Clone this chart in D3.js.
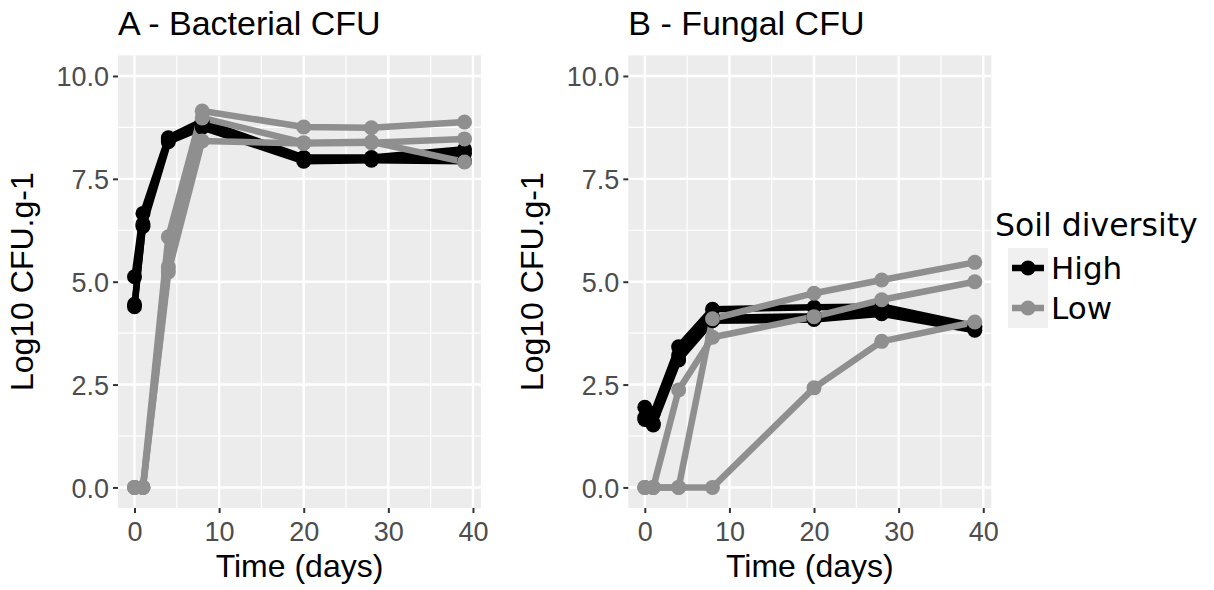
<!DOCTYPE html>
<html><head><meta charset="utf-8">
<script src="https://cdn.jsdelivr.net/npm/d3@7"></script>
<style>body{margin:0;background:#fff}svg{display:block}</style>
</head><body><svg id="c" width="1214" height="590"></svg>
<script>
const days = [0, 1, 4, 8, 20, 28, 39];
const xTicks = [0, 10, 20, 30, 40];
const yTicks = [0, 2.5, 5, 7.5, 10];
const yTickLabels = ["0.0", "2.5", "5.0", "7.5", "10.0"];
const levels = ["High", "Low"];
const panelTitles = ["A - Bacterial CFU", "B - Fungal CFU"];
// Panel A - bacterial, replicates per soil diversity
const bactHigh1 = [5.12, 6.66, 8.50, 8.90, 8.02, 8.02, 8.22];
const bactHigh2 = [4.45, 6.34, 8.40, 8.75, 7.93, 7.95, 7.93];
const bactHigh3 = [4.39, 6.40, 8.45, 8.82, 7.97, 7.98, 8.12];
const bactLow1 = [0, 0, 6.09, 9.15, 8.76, 8.74, 8.88];
const bactLow2 = [0, 0, 5.36, 8.98, 8.38, 8.40, 7.91];
const bactLow3 = [0, 0, 5.24, 8.42, 8.36, 8.38, 8.47];
// Panel B - fungal
const fungHigh1 = [1.95, 1.80, 3.42, 4.33, 4.38, 4.40, 3.92];
const fungHigh2 = [1.65, 1.52, 3.10, 4.05, 4.08, 4.22, 3.82];
const fungHigh3 = [1.70, 1.56, 3.22, 4.12, 4.16, 4.30, 3.88];
const fungLow1 = [0, 0, 2.37, 3.65, 4.15, 4.56, 5.00];
const fungLow2 = [0, 0, 0, 4.10, 4.72, 5.04, 5.47];
const fungLow3 = [0, 0, 0, 0, 2.42, 3.55, 4.02];

const colors = {High: "#000000", Low: "#8f8f8f"};
const panels = [
  {title: panelTitles[0], left: 118, series: [
    {level: "High", vals: bactHigh1}, {level: "High", vals: bactHigh2}, {level: "High", vals: bactHigh3},
    {level: "Low", vals: bactLow1}, {level: "Low", vals: bactLow2}, {level: "Low", vals: bactLow3}]},
  {title: panelTitles[1], left: 628.3, series: [
    {level: "High", vals: fungHigh1}, {level: "High", vals: fungHigh2}, {level: "High", vals: fungHigh3},
    {level: "Low", vals: fungLow1}, {level: "Low", vals: fungLow2}, {level: "Low", vals: fungLow3}]}
];
const W = 363, pTop = 55.4, pBottom = 508;
const svg = d3.select("#c");
const FONT = "'Liberation Sans', Arial, sans-serif";

panels.forEach(p => {
  const x = d3.scaleLinear().domain([-1.95, 40.95]).range([p.left, p.left + W]);
  const y = d3.scaleLinear().domain([-0.5, 10.5]).range([pBottom, pTop]);
  const g = svg.append("g");
  g.append("rect").attr("x", p.left).attr("y", pTop).attr("width", W).attr("height", pBottom - pTop).attr("fill", "#ececec");
  // minor grid
  [5, 15, 25, 35].forEach(v => g.append("line").attr("x1", x(v)).attr("x2", x(v)).attr("y1", pTop).attr("y2", pBottom).attr("stroke", "#fff").attr("stroke-width", 1.2));
  [1.25, 3.75, 6.25, 8.75].forEach(v => g.append("line").attr("y1", y(v)).attr("y2", y(v)).attr("x1", p.left).attr("x2", p.left + W).attr("stroke", "#fff").attr("stroke-width", 1.2));
  xTicks.forEach(v => g.append("line").attr("x1", x(v)).attr("x2", x(v)).attr("y1", pTop).attr("y2", pBottom).attr("stroke", "#fff").attr("stroke-width", 2.4));
  yTicks.forEach(v => g.append("line").attr("y1", y(v)).attr("y2", y(v)).attr("x1", p.left).attr("x2", p.left + W).attr("stroke", "#fff").attr("stroke-width", 2.4));

  // axes
  const xa = g.append("g").attr("transform", `translate(0,${pBottom})`)
    .call(d3.axisBottom(x).tickValues(xTicks).tickSize(5).tickPadding(4).tickFormat(d3.format("d")));
  const ya = g.append("g").attr("transform", `translate(${p.left},0)`)
    .call(d3.axisLeft(y).tickValues(yTicks).tickSize(5).tickPadding(4).tickFormat((d, i) => yTickLabels[i]));
  [xa, ya].forEach(a => {
    a.select(".domain").remove();
    a.selectAll(".tick line").attr("stroke", "#333").attr("stroke-width", 2);
    a.selectAll(".tick text").attr("fill", "#4d4d4d").style("font-family", FONT).style("font-size", "27px");
  });
  xa.selectAll(".tick text").attr("dy", "0.9em");
  ya.selectAll(".tick text").attr("dy", "0.36em");

  const line = d3.line().x((d, i) => x(days[i])).y(d => y(d));
  ["High", "Low"].forEach(lv => {
    p.series.filter(s => s.level === lv).forEach(s => {
      g.append("path").attr("d", line(s.vals)).attr("fill", "none").attr("stroke", colors[lv])
        .attr("stroke-width", 6.5).attr("stroke-linejoin", "round");
    });
  });
  ["High", "Low"].forEach(lv => {
    p.series.filter(s => s.level === lv).forEach(s => {
      s.vals.forEach((v, i) => g.append("circle").attr("cx", x(days[i])).attr("cy", y(v)).attr("r", 7.5).attr("fill", colors[lv]));
    });
  });

  g.append("text").attr("x", p.left).attr("y", 35).text(p.title)
    .style("font-family", FONT).style("font-size", "34px").attr("fill", "#000");
  g.append("text").attr("x", p.left + W / 2).attr("y", 577).attr("text-anchor", "middle").text("Time (days)")
    .style("font-family", FONT).style("font-size", "32px");
  g.append("text").attr("transform", `translate(${p.left - 85},${(pTop + pBottom) / 2}) rotate(-90)`)
    .attr("text-anchor", "middle").text("Log10 CFU.g-1")
    .style("font-family", FONT).style("font-size", "32px");
});

// legend
const LF = "'DejaVu Sans', sans-serif";
const lg = svg.append("g");
lg.append("text").attr("x", 995).attr("y", 236).text("Soil diversity").style("font-family", LF).style("font-size", "31.5px");
levels.forEach((lv, i) => {
  const cy = 268 + i * 40;
  lg.append("rect").attr("x", 1008).attr("y", cy - 20).attr("width", 40).attr("height", 40).attr("fill", "#f0f0f0");
  lg.append("line").attr("x1", 1012).attr("x2", 1044).attr("y1", cy).attr("y2", cy).attr("stroke", colors[lv]).attr("stroke-width", 6.5);
  lg.append("circle").attr("cx", 1028).attr("cy", cy).attr("r", 7.5).attr("fill", colors[lv]);
  lg.append("text").attr("x", 1051).attr("y", cy + 11).text(lv).style("font-family", LF).style("font-size", "31px");
});
</script></body></html>
